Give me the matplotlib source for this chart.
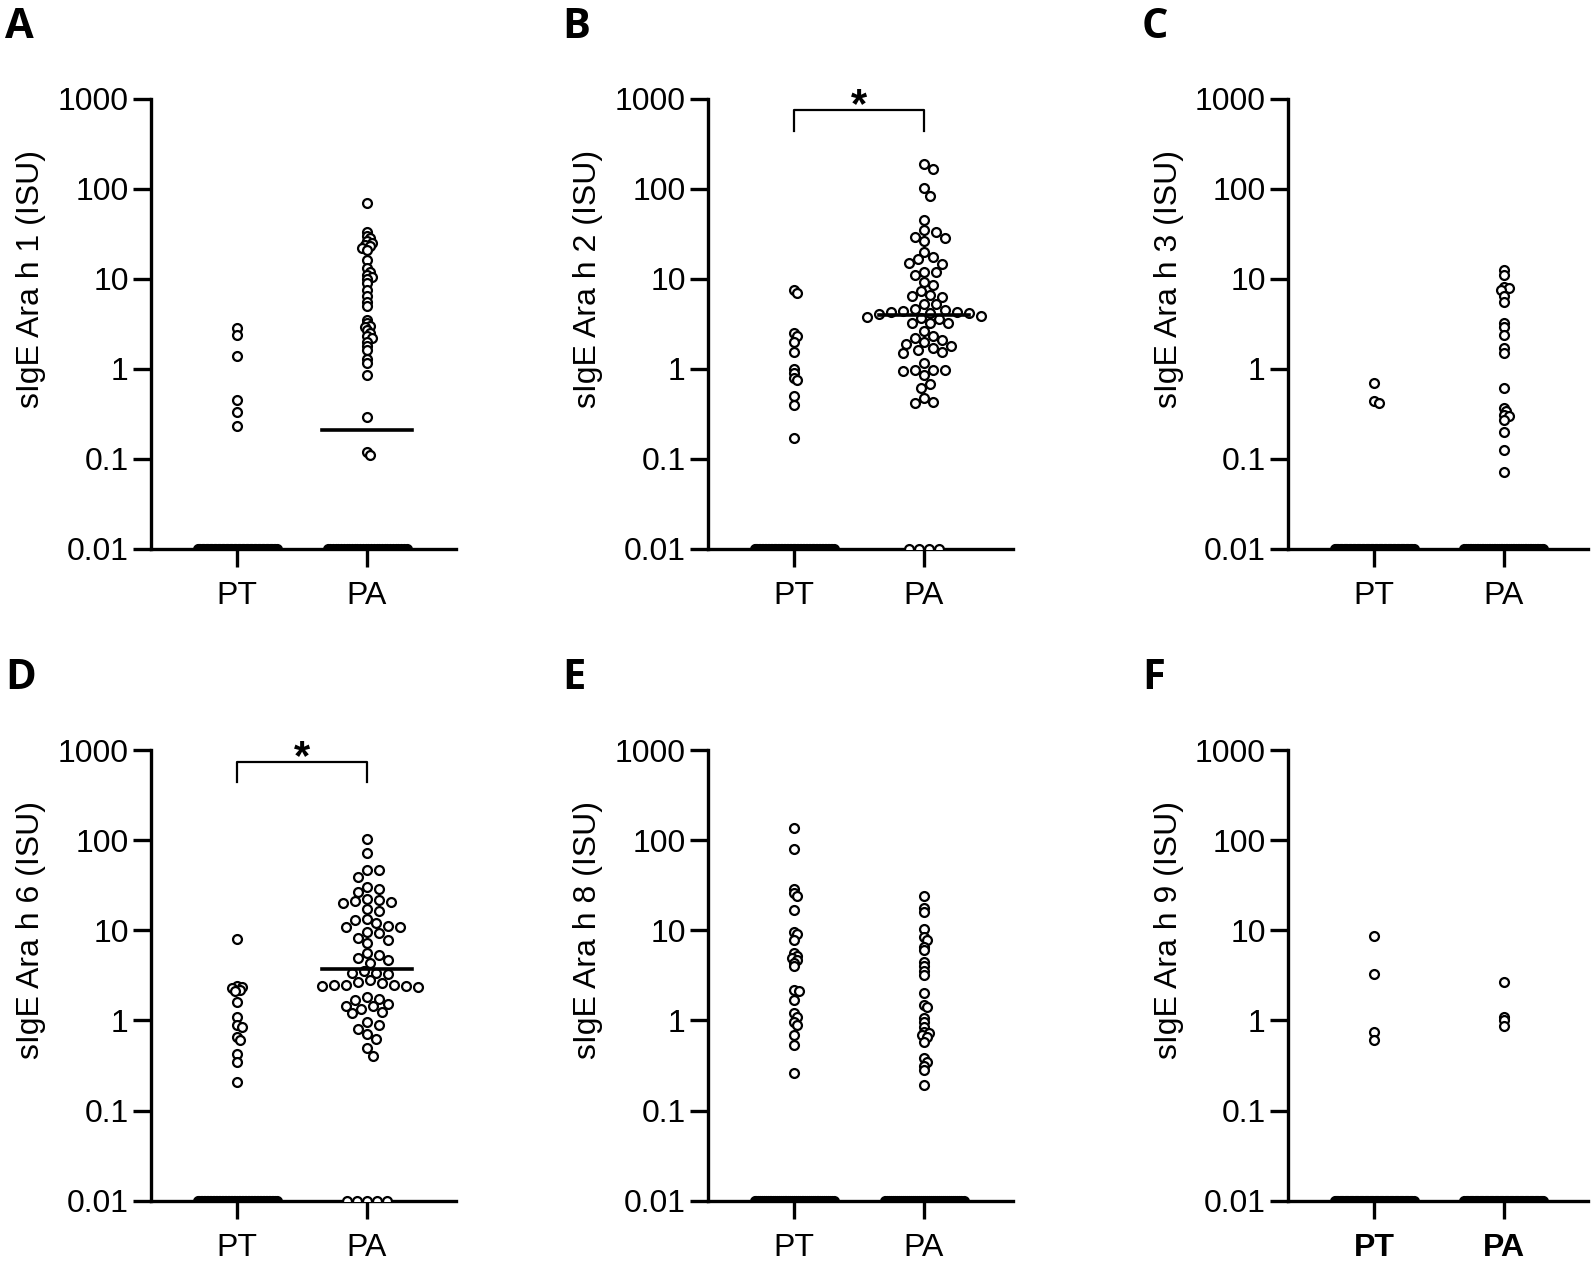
import numpy as np
import matplotlib.pyplot as plt

plt.rcParams['font.family'] = ['Liberation Sans', 'DejaVu Sans']

groups = ['PT', 'PA']
y_ticks = [0.01, 0.1, 1, 10, 100, 1000]
y_tick_labels = ['0.01', '0.1', '1', '10', '100', '1000']
panel_letters = ['A', 'B', 'C', 'D', 'E', 'F']
y_labels = ['sIgE Ara h 1 (ISU)', 'sIgE Ara h 2 (ISU)', 'sIgE Ara h 3 (ISU)',
            'sIgE Ara h 6 (ISU)', 'sIgE Ara h 8 (ISU)', 'sIgE Ara h 9 (ISU)']

# positive sIgE values
a_pt = [2.85, 2.35, 1.4, 0.45, 0.33, 0.23]
a_pa = [69, 33, 30, 28, 26, 25, 24, 23, 22, 21, 16, 13, 12, 11, 10.5, 10, 9, 7.5,
        6.5, 5.5, 5, 3.5, 3.2, 3.0, 2.9, 2.7, 2.5, 2.3, 2.2, 2.0, 1.8, 1.6, 1.3,
        1.15, 0.85, 0.29, 0.12, 0.11]
b_pt = [7.5, 7.0, 2.5, 2.3, 2.0, 1.55, 1.0, 0.9, 0.8, 0.75, 0.5, 0.4, 0.17]
b_pa = [187, 164, 103, 83, 45, 35, 33, 29, 28, 26, 20, 17.5, 16.4, 14.8, 14.6, 12,
        12, 11, 9.3, 8.5, 7.3, 6.6, 6.4, 6.3, 5.3, 5.2, 4.6, 4.5, 4.4, 4.3, 4.3,
        4.2, 4.2, 4.1, 3.9, 3.8, 3.7, 3.6, 3.25, 3.2, 3.2, 2.6, 2.3, 2.2, 2.1, 2.0,
        1.9, 1.8, 1.7, 1.6, 1.55, 1.5, 1.17, 0.98, 0.97, 0.96, 0.95, 0.85, 0.68,
        0.62, 0.47, 0.43, 0.42]
c_pt = [0.7, 0.44, 0.42]
c_pa = [12.5, 11, 8.2, 7.8, 7.5, 6.5, 5.5, 3.2, 2.9, 2.4, 1.7, 1.5, 0.62, 0.37,
        0.34, 0.31, 0.3, 0.27, 0.2, 0.125, 0.072]
d_pt = [8.0, 2.4, 2.35, 2.3, 2.2, 2.1, 1.6, 1.1, 0.9, 0.85, 0.65, 0.6, 0.42, 0.35,
        0.21]
d_pa = [103, 73, 47, 47, 39, 30, 28.6, 27, 22.6, 22, 21, 20.8, 20, 17.2, 16.6,
        13.3, 13, 12, 11.2, 11, 11, 9.6, 9.4, 8.2, 7.8, 7.2, 5.6, 5.3, 5.0, 4.7,
        4.4, 3.5, 3.4, 3.4, 3.3, 2.8, 2.7, 2.6, 2.5, 2.5, 2.45, 2.4, 2.4, 2.35,
        1.8, 1.75, 1.7, 1.52, 1.46, 1.43, 1.33, 1.25, 1.2, 0.95, 0.89, 0.8, 0.71,
        0.63, 0.49, 0.40]
e_pt = [136, 80, 29, 26, 24, 17, 9.7, 9.1, 7.8, 5.6, 5.2, 5.0, 4.7, 4.4, 4.0, 2.2,
        2.1, 1.7, 1.2, 1.1, 0.95, 0.89, 0.69, 0.53, 0.26]
e_pa = [24, 17.6, 16, 10.5, 8.5, 7.8, 6.6, 6.0, 4.5, 4.0, 3.5, 3.2, 2.0, 1.5, 1.4,
        1.06, 0.96, 0.85, 0.75, 0.72, 0.69, 0.65, 0.58, 0.38, 0.35, 0.31, 0.28,
        0.19]
f_pt = [8.7, 3.3, 0.75, 0.6]
f_pa = [2.7, 1.1, 1.0, 0.87]

pt_values = [a_pt, b_pt, c_pt, d_pt, e_pt, f_pt]
pa_values = [a_pa, b_pa, c_pa, d_pa, e_pa, f_pa]
# undetectable results, drawn at 0.01
zeros_pt = [60, 55, 62, 53, 43, 64]
zeros_pa = [30, 4, 47, 5, 40, 64]
medians_pa = [0.21, 4.0, None, 3.7, None, None]
significant = [False, True, False, True, False, False]

# layout in pixels (figure 1594 x 1261)
W, H = 1594, 1261
col_left = [151, 708, 1288]
col_right = [456, 1013, 1588]
row_top = [98.6, 750.3]
row_bottom = [549, 1200.6]
px_unit = 130.0      # pixels between PT and PA
pt_offset = 86.0     # PT position from the y axis
diam = 9.8           # marker diameter in pixels
ms, mew = 6.4, 1.6

fig = plt.figure(figsize=(W / 100, H / 100), dpi=100)


def swarm(y_px, min_dist, step):
    # simple beeswarm: put each point as close to the centre as possible
    order = np.argsort(y_px)[::-1]
    placed = []
    xs = np.zeros(len(y_px))
    for i in order:
        pos = None
        k = 0
        while pos is None:
            cands = [0.0] if k == 0 else [k * step, -k * step]
            for c in cands:
                if all((c - px) ** 2 + (y_px[i] - py) ** 2 >= min_dist ** 2 for px, py in placed):
                    pos = c
                    break
            k += 1
        xs[i] = pos
        placed.append((pos, y_px[i]))
    return xs


for n in range(6):
    r, c = divmod(n, 3)
    l, rt = col_left[c], col_right[c]
    t, b = row_top[r], row_bottom[r]
    ax = fig.add_axes([l / W, 1 - b / H, (rt - l) / W, (b - t) / H])
    x0 = 1 - pt_offset / px_unit
    ax.set_xlim(x0, x0 + (rt - l) / px_unit)
    ax.set_yscale('log')
    ax.set_ylim(0.01, 1000)
    px_dec = (b - t) / 5.0

    for g, (vals, nz) in enumerate([(pt_values[n], zeros_pt[n]), (pa_values[n], zeros_pa[n])]):
        xc = g + 1
        v = np.array(vals)
        ypx = np.log10(v) * px_dec
        if g == 1 and n in (1, 3):
            offs = swarm(ypx, diam * 0.98, 3.0)
        else:
            offs = swarm(ypx, 3.5, 2.5)
        ax.plot(xc + offs / px_unit, v, 'o', ms=ms, mfc='white', mec='black',
                mew=mew, clip_on=False, zorder=3)
        # zero values along the axis
        if nz * diam <= 80:
            zoff = (np.arange(nz) - (nz - 1) / 2) * diam
            fill = 'white'
        else:
            zoff = np.linspace(-39.5, 39.5, nz)
            fill = 'black'
        ax.plot(xc + zoff / px_unit, np.full(nz, 0.01), 'o', ms=ms, mfc=fill,
                mec='black', mew=mew, clip_on=True, zorder=3)

    if medians_pa[n] is not None:
        ax.plot([2 - 45 / px_unit, 2 + 45 / px_unit], [medians_pa[n]] * 2,
                color='black', lw=2.6, zorder=4)

    if significant[n]:
        ax.plot([1, 1, 2, 2], [440, 750, 750, 440], color='black', lw=1.6,
                clip_on=False)
        ax.text(1.5, 620, '*', ha='center', va='baseline', fontsize=30,
                fontweight='bold')

    for s in ['top', 'right']:
        ax.spines[s].set_visible(False)
    for s in ['left', 'bottom']:
        ax.spines[s].set_linewidth(2.4)
    ax.set_yticks(y_ticks)
    ax.set_yticklabels(y_tick_labels)
    ax.minorticks_off()
    ax.set_xticks([1, 2])
    ax.set_xticklabels(groups, fontweight='bold' if n == 5 else 'normal')
    ax.tick_params(axis='both', length=13, width=2.4, labelsize=23)
    ax.tick_params(axis='x', pad=10)
    ax.tick_params(axis='y', pad=3)
    ax.set_ylabel(y_labels[n], fontsize=23)
    ax.yaxis.set_label_coords(-0.345, 0.60)

    fig.text((l - 146) / W, 1 - (t - 92) / H, panel_letters[n], ha='left',
             va='top', fontsize=30, fontweight='bold', family='Open Sans')

fig.savefig('out.png', dpi=100)
